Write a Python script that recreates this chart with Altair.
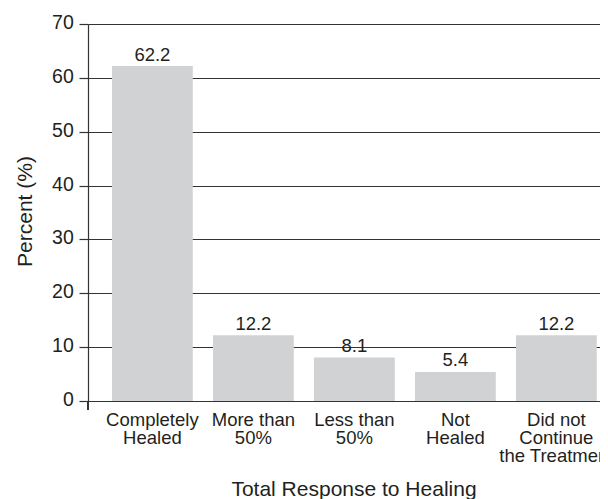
import altair as alt
import pandas as pd

categories = ["Completely\nHealed", "More than\n50%", "Less than\n50%", "Not\nHealed",
              "Did not\nContinue\nthe Treatment"]
values = [62.2, 12.2, 8.1, 5.4, 12.2]
value_labels = ["62.2", "12.2", "8.1", "5.4", "12.2"]
y_ticks = [0, 10, 20, 30, 40, 50, 60, 70]

df = pd.DataFrame({"cat": categories, "val": values, "lab": value_labels})

FONT = "Liberation Sans"
TXT = "#231f20"
LINE = "#333333"
BAR = "#d1d2d4"

x_enc = alt.X(
    "cat:N", sort=categories, title="Total Response to Healing",
    scale=alt.Scale(paddingInner=0.2, paddingOuter=0.13465, align=0.882),
    axis=alt.Axis(
        labelExpr="split(datum.label, '\\n')", ticks=False, tickSize=0,
        labelPadding=9, labelAngle=0, labelFontSize=18.5, labelLineHeight=18,
        labelBaseline="top", domain=True, domainColor=LINE, domainWidth=1.2,
        titleX=265.5, titleY=94, titleBaseline="alphabetic", titleFontSize=21,
        titleFontWeight="normal", titleAnchor="middle"),
)

y_enc = alt.Y(
    "val:Q", scale=alt.Scale(domain=[0, 70], nice=False),
    axis=alt.Axis(
        values=y_ticks, tickSize=9, labelPadding=5.7, labelOffset=-1.5, grid=True,
        gridColor=LINE, gridWidth=1.2, tickColor=LINE, tickWidth=1.2,
        domainColor=LINE, domainWidth=1.2, labelFontSize=19.5,
        title="Percent (%)", titleX=-56.3, titleY=187,
        titleBaseline="alphabetic", titleAngle=-90, titleFontSize=21,
        titleFontWeight="normal", titleAnchor="middle"),
)

base = alt.Chart(df)
bars = base.mark_bar(color=BAR).encode(x=x_enc, y=y_enc)
text = base.mark_text(font=FONT, fontSize=18.5, color=TXT, baseline="alphabetic", dy=-5.5).encode(
    x=alt.X("cat:N", sort=categories), y=alt.Y("val:Q"), text="lab:N")
stub = base.mark_rule(color=LINE, strokeWidth=1.2).encode(
    x=alt.value(0), y=alt.value(377), y2=alt.value(386))

chart = alt.layer(bars, text, stub).properties(
    width=512, height=377,
    autosize=alt.AutoSizeParams(type="none"),
    padding={"left": 80, "top": 16, "right": 0, "bottom": 98},
).configure_view(stroke=None).configure_axis(
    labelFont=FONT, titleFont=FONT, labelColor=TXT, titleColor=TXT,
)

chart.save("out.html", embed_options={"renderer": "svg", "actions": False})
